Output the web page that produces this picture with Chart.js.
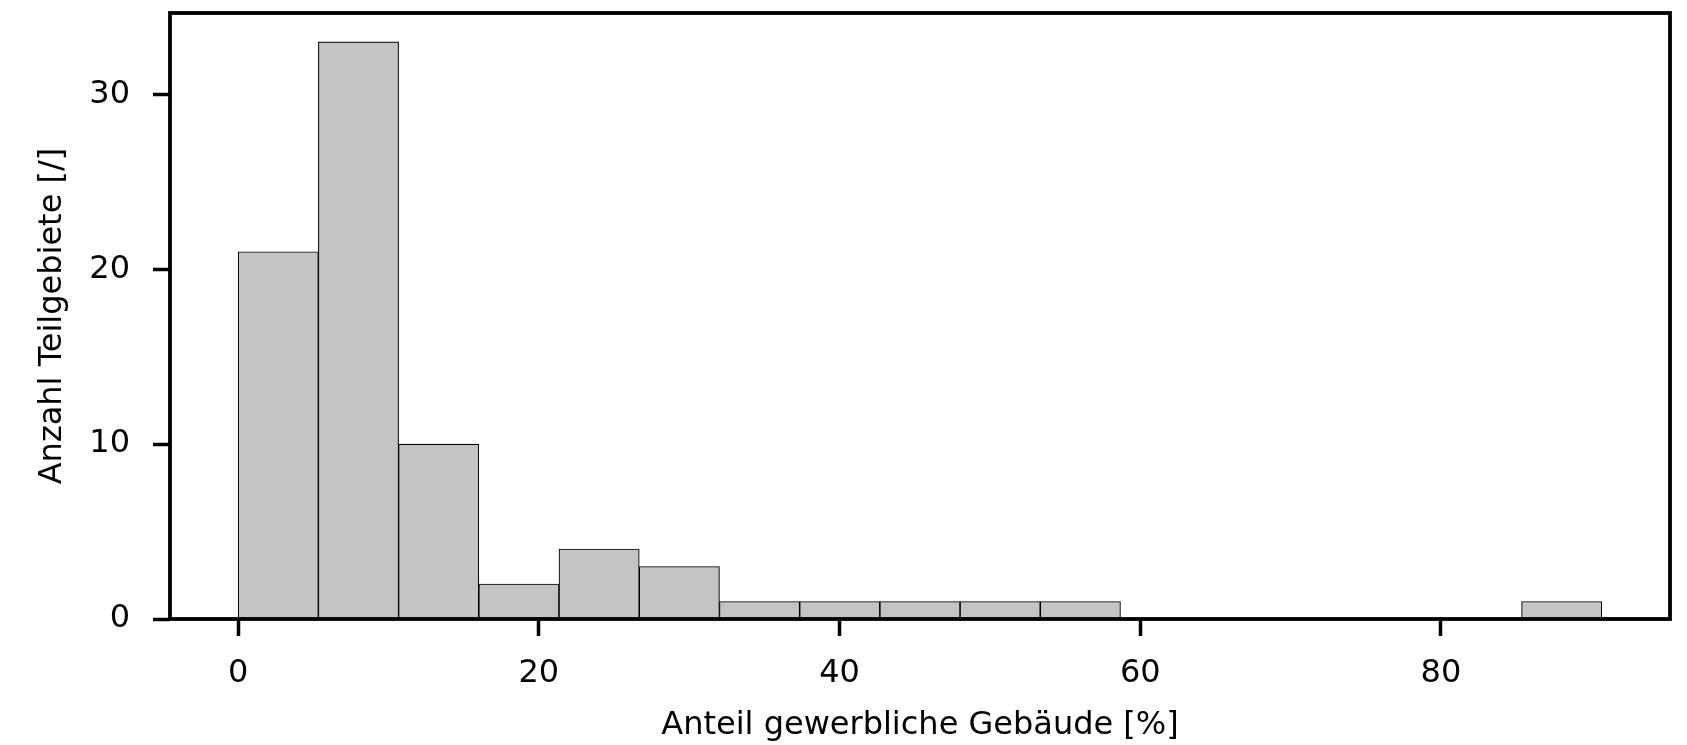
<!DOCTYPE html>
<html>
<head>
<meta charset="utf-8">
<script src="https://cdn.jsdelivr.net/npm/chart.js@4"></script>
<style>
  body { margin: 0; background: #fff; }
</style>
</head>
<body>
<canvas id="histChart" width="1687" height="745"></canvas>
<script>
// Klassengrenzen (17 Klassen von 0 bis ~90.7 %)
const binEdges = [0, 5.335, 10.67, 16.005, 21.34, 26.675, 32.01, 37.345, 42.68, 48.015,
                  53.35, 58.685, 64.02, 69.355, 74.69, 80.025, 85.36, 90.7];
// Anzahl Teilgebiete je Klasse
const counts = [21, 33, 10, 2, 4, 3, 1, 1, 1, 1, 1, 0, 0, 0, 0, 0, 1];

// Achsen
const xTicks = [0, 20, 40, 60, 80];
const yTicks = [0, 10, 20, 30];
const xMin = -4.535, xMax = 95.235;
const yMin = 0, yMax = 34.65;

const xTitle = 'Anteil gewerbliche Gebäude [%]';
const yTitle = 'Anzahl Teilgebiete [/]';

// Balken in der Klassenmitte
const histData = counts.map((c, i) => ({
    x: (binEdges[i] + binEdges[i + 1]) / 2,
    y: c > 0 ? c : null
}));

const font = { family: 'DejaVu Sans', size: 32 };

// Rahmen um die Zeichenfläche (wie matplotlib-Spines)
const framePlugin = {
    id: 'frame',
    afterDatasetsDraw(chart) {
        const a = chart.chartArea;
        const ctx = chart.ctx;
        ctx.save();
        ctx.strokeStyle = '#000';
        ctx.lineWidth = 3.8;
        ctx.strokeRect(a.left, a.top, a.right - a.left, a.bottom - a.top);
        ctx.restore();
    }
};

const chrt = document.getElementById('histChart').getContext('2d');
const histChart = new Chart(chrt, {
    type: 'bar',
    data: {
        datasets: [{
            data: histData,
            backgroundColor: '#c4c4c4',
            borderColor: '#000',
            borderWidth: 1.1,
            borderSkipped: false,
            barPercentage: 1,
            categoryPercentage: 1,
        }]
    },
    options: {
        responsive: false,
        animation: false,
        devicePixelRatio: 1,
        layout: { padding: { top: 13, right: 17, left: 0, bottom: 0 } },
        plugins: {
            legend: { display: false },
            tooltip: { enabled: false }
        },
        scales: {
            x: {
                type: 'linear',
                min: xMin,
                max: xMax,
                offset: false,
                afterBuildTicks: s => { s.ticks = xTicks.map(v => ({ value: v })); },
                afterFit: s => {
                    s.height = 126;
                    s.paddingLeft = 0;
                    s.paddingRight = 0;
                },
                ticks: { font: font, color: '#000', padding: 18, maxRotation: 0 },
                grid: {
                    offset: false,
                    drawOnChartArea: false,
                    drawTicks: true,
                    tickLength: 17,
                    tickWidth: 3.5,
                    tickColor: '#000'
                },
                border: { display: false },
                title: {
                    display: true,
                    text: xTitle,
                    font: font,
                    color: '#000',
                    padding: { top: 0, bottom: 0 }
                }
            },
            y: {
                type: 'linear',
                min: yMin,
                max: yMax,
                afterBuildTicks: s => { s.ticks = yTicks.map(v => ({ value: v })); },
                afterFit: s => {
                    s.width = 170;
                    s.paddingTop = 0;
                    s.paddingBottom = 0;
                },
                ticks: { font: font, color: '#000', padding: 23 },
                grid: {
                    drawOnChartArea: false,
                    drawTicks: true,
                    tickLength: 17,
                    tickWidth: 3.5,
                    tickColor: '#000'
                },
                border: { display: false },
                title: {
                    display: true,
                    text: yTitle,
                    font: font,
                    color: '#000',
                    padding: { top: 33, bottom: 0 }
                }
            }
        }
    },
    plugins: [framePlugin]
});
</script>
</body>
</html>
